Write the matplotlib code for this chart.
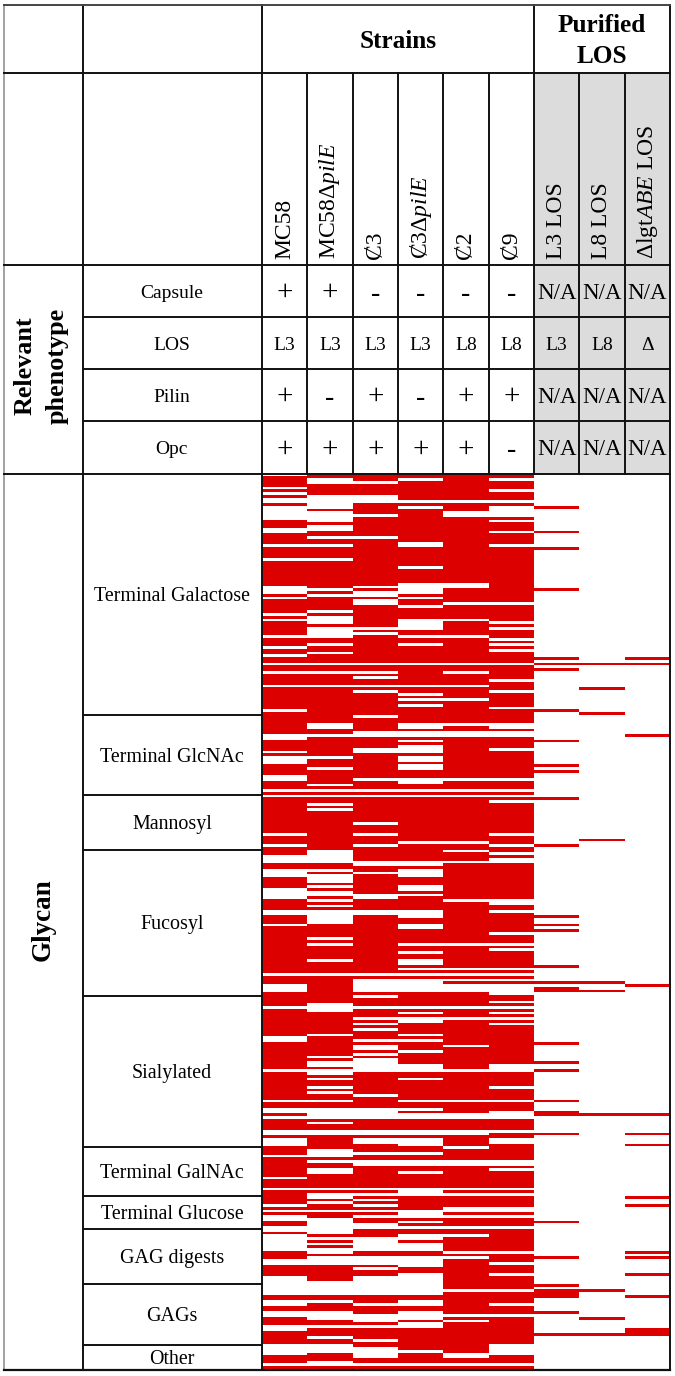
import numpy as np
import matplotlib
matplotlib.use("Agg")
import matplotlib.pyplot as plt
from matplotlib.colors import ListedColormap

plt.rcParams['font.family'] = ['Liberation Serif', 'DejaVu Serif']
plt.rcParams['mathtext.fontset'] = 'custom'
plt.rcParams['mathtext.rm'] = 'Liberation Serif'
plt.rcParams['mathtext.it'] = 'Liberation Serif:italic'

columns = ['MC58', 'MC58Δ$\\mathit{pilE}$', 'Ȼ3', 'Ȼ3Δ$\\mathit{pilE}$', 'Ȼ2', 'Ȼ9',
           'L3 LOS', 'L8 LOS', 'Δlgt$\\mathit{ABE}$ LOS']
phenotypes = ['Capsule', 'LOS', 'Pilin', 'Opc']
capsule = ['+', '+', '-', '-', '-', '-', 'N/A', 'N/A', 'N/A']
los = ['L3', 'L3', 'L3', 'L3', 'L8', 'L8', 'L3', 'L8', 'Δ']
pilin = ['+', '-', '+', '-', '+', '+', 'N/A', 'N/A', 'N/A']
opc = ['+', '+', '+', '+', '+', '-', 'N/A', 'N/A', 'N/A']

groups = ['Terminal Galactose', 'Terminal GlcNAc', 'Mannosyl', 'Fucosyl', 'Sialylated',
          'Terminal GalNAc', 'Terminal Glucose', 'GAG digests', 'GAGs', 'Other']
group_rows = [88, 29, 20, 53, 55, 18, 12, 20, 22, 9]
n_rows = 326

# unbound rows of the six strains, an int is one row, a tuple an inclusive run
mc58_white = [0, 5, 7, (9, 10), (12, 16), (20, 21), 26, 31, (41, 43), 45, 51, 53, 59, 63, 66, 69, 72, 77,
              86, (95, 96), 101, (103, 105), (110, 111), 115, 117, 131, 135, (139, 141), (144, 146),
              (151, 154), (159, 160), 164, 182, (186, 188), 194, (205, 206), 217, 228, (231, 232), 234,
              (239, 240), (242, 243), 244, 248, 256, 260, 266, 268, (270, 271), (274, 275), (277, 282),
              (286, 287), (292, 294), (295, 298), (301, 302), (305, 306), (310, 311), (317, 320), 324]
pile_white = [(2, 3), (8, 12), (14, 17), (19, 20), 23, 26, 31, 42, 44, 50, (52, 54), (56, 59), 62, 65, 69, 72, 77,
              (91, 92), 95, 103, 107, 113, 115, 117, 120, 122, (137, 141), 144, (146, 148), 150, (152, 153),
              155, 157, (159, 163), 169, 171, 177, 182, (193, 195), 204, 212, (214, 215), (217, 218), 220,
              223, 225, 228, (231, 234), 236, (239, 240), (246, 248), 250, (253, 254), 260, (262, 263), 265,
              268, (271, 274), (275, 276), 278, 280, (282, 283), (285, 287), (294, 298), 301, (305, 307),
              310, 314, (317, 319), (323, 324)]
c3_white = [3, (8, 10), 15, 23, 41, (43, 44), (46, 47), 56, 58, 69, 72, 74, 77, 79, 88, (94, 95), (100, 101), 111, 115,
            117, 127, 131, 135, (141, 142), 145, (153, 154), (159, 160), 182, (184, 188), 190, 194, 198,
            200, 202, 206, (208, 209), 211, (213, 217), 226, (231, 234), (239, 240), (242, 243), 247, (250, 251),
            260, 262, 264, 266, 268, 270, (273, 274), (278, 282), (285, 286), 287, 289, (292, 294), (295, 298),
            302, (306, 308), 310, 315, (318, 321), 324]
c3_pile_white = [2, 10, 12, (25, 26), 34, (40, 43), 45, 48, (53, 56), 59, 62, 69, 77, 80, 82, 84, (91, 92), (94, 95), 97,
                 (99, 101), (103, 104), (106, 107), (111, 112), 115, 117, 134, (141, 142), (144, 146), (150, 151), 153,
                 (159, 161), 164, 165, 171, 174, (177, 178), 180, 182, (184, 188), 194, 196, (198, 199), 204, 206,
                 210, (215, 217), 220, 228, 231, (233, 234), (239, 240), (242, 244), 247, (250, 251), 254,
                 (260, 262), (268, 270), 272, 274, (277, 278), (280, 282), (285, 288), (291, 294), (295, 298),
                 (301, 302), (305, 307), (309, 310), 319, 324]
c2_white = [10, (14, 15), (40, 41), 47, 53, 59, 69, 72, 77, 82, 91, (94, 95), 111, 115, 117, 134, 137, 141, 155,
            171, 180, 182, 184, (186, 188), 194, 198, 208, 217, 228, (233, 234), (239, 240), 245, (250, 251), 260,
            262, (267, 268), 270, 274, 277, 283, 285, 297, 306, 308, (320, 321), 324]
c9_white = [2, 6, 10, (12, 15), 17, 21, 26, 47, 54, 56, 60, 62, 64, 69, 75, 79, 85, (91, 92), (94, 95), 100, 111,
            115, 117, 119, 131, 135, 138, (140, 141), (155, 156), 159, 167, 171, 173, 180, 182, 184, (186, 189), 192, 194,
            196, 198, 200, (215, 217), 223, 228, (232, 234), 239, (242, 243), (250, 251), 253, 260, 262, (267, 268),
            270, 274, 283, 287, 291, 297, 302, 306, (317, 319), 320, 324]
# bound rows of the purified LOS, mostly empty
l3_red = [12, 21, 27, 42, 67, 69, 71, 86, 97, 106, 108, 118, 135, 161, 164, 166, 179, 185, (187, 188), 207, 214,
          217, 228, (232, 233), 240, 272, 285, 295, (297, 299), 305, 313]
l8_red = [69, 78, 87, 133, 185, 188, 233, 297, 307, 313]
dlgt_red = [67, 69, 95, 186, 233, 240, 244, 263, 266, 283, 285, 291, 299, (311, 313)]

# page layout in pixels
col_x = np.array([262, 307.3, 352.6, 398, 443.3, 488.6, 534, 579.3, 624.6, 670])
head_y = [5, 73, 265, 316.5, 368.5, 421, 473.5]
bottom = 1369.5
red = '#dc0000'


def fill_rows(m, j, rows, val):
    for r in rows:
        if isinstance(r, tuple):
            m[r[0]:r[1] + 1, j] = val
        else:
            m[r, j] = val


hits = np.zeros((n_rows, 9))
hits[:, :6] = 1
for j, rows in enumerate([mc58_white, pile_white, c3_white, c3_pile_white, c2_white, c9_white]):
    fill_rows(hits, j, rows, 0)
for j, rows in enumerate([l3_red, l8_red, dlgt_red]):
    fill_rows(hits, j + 6, rows, 1)

fig = plt.figure(figsize=(6.75, 13.76), dpi=100)
ax = fig.add_axes([0, 0, 1, 1])
ax.set_axis_off()

ax.fill_between([col_x[6], col_x[9]], head_y[1], head_y[6], color='#dcdcdc', lw=0)
ax.imshow(hits, cmap=ListedColormap(['white', red]), vmin=0, vmax=1, aspect='auto',
          interpolation='nearest', extent=(col_x[0], col_x[9], bottom, head_y[6]))
ax.set_xlim(0, 675)
ax.set_ylim(1376, 0)

lw = 1.4
line = dict(color='#111111', lw=lw, solid_capstyle='projecting')
ax.plot([4, 4], [head_y[0], bottom], color='#888888', lw=1.1)
ax.plot([83, 83], [head_y[0], bottom], **line)
ax.plot([col_x[0], col_x[0]], [head_y[0], bottom], **line)
ax.plot([670, 670], [head_y[0], bottom], **line)
for x in col_x[1:9]:
    ax.plot([x, x], [head_y[1], head_y[6]], **line)
ax.plot([col_x[6], col_x[6]], [head_y[0], head_y[1]], **line)
ax.plot([4, 670], [head_y[0], head_y[0]], color='#444444', lw=lw)
ax.plot([4, 670], [head_y[1], head_y[1]], **line)
ax.plot([4, 670], [head_y[2], head_y[2]], **line)
for y in head_y[3:6]:
    ax.plot([83, 670], [y, y], **line)
ax.plot([4, 670], [head_y[6], head_y[6]], **line)
ax.plot([4, 670], [bottom, bottom], color='#111111', lw=1.6)

ax.text(398, 41, 'Strains', fontsize=18.2, fontweight='bold', ha='center', va='center')
ax.text(602, 41, 'Purified\nLOS', fontsize=18.2, fontweight='bold', ha='center', va='center', linespacing=1.45)
ax.text(41, 366, 'Relevant\nphenotype', fontsize=18.8, fontweight='bold', rotation=90,
        ha='center', va='center', linespacing=1.5)
ax.text(43, 920, 'Glycan', fontsize=19.5, fontweight='bold', rotation=90, ha='center', va='center')

mid_x = (col_x[:-1] + col_x[1:]) / 2
for x, name in zip(mid_x, columns):
    ax.text(x, 259, name, fontsize=17, rotation=90, ha='center', va='bottom')

for i, (name, vals) in enumerate(zip(phenotypes, [capsule, los, pilin, opc])):
    y = (head_y[i + 2] + head_y[i + 3]) / 2
    ax.text(172, y + 2.5, name, fontsize=14, ha='center', va='center')
    for x, v in zip(mid_x, vals):
        if v == '+':
            ax.text(x, y + 2.5, v, fontsize=21, ha='center', va='center')
        elif v == '-':
            ax.text(x, y + 3.5, v, fontsize=20, ha='center', va='center')
        elif v == 'N/A':
            ax.text(x, y + 2.5, v, fontsize=16.5, ha='center', va='center')
        else:
            ax.text(x, y + 2.5, v, fontsize=14, ha='center', va='center')

row_h = (bottom - head_y[6]) / n_rows
edges = head_y[6] + np.cumsum([0] + group_rows) * row_h
for k, name in enumerate(groups):
    ax.text(172, (edges[k] + edges[k + 1]) / 2 + 2, name, fontsize=14.4, ha='center', va='center')
    if k > 0:
        ax.plot([83, col_x[0]], [edges[k], edges[k]], **line)

fig.savefig("out.png", dpi=100)
